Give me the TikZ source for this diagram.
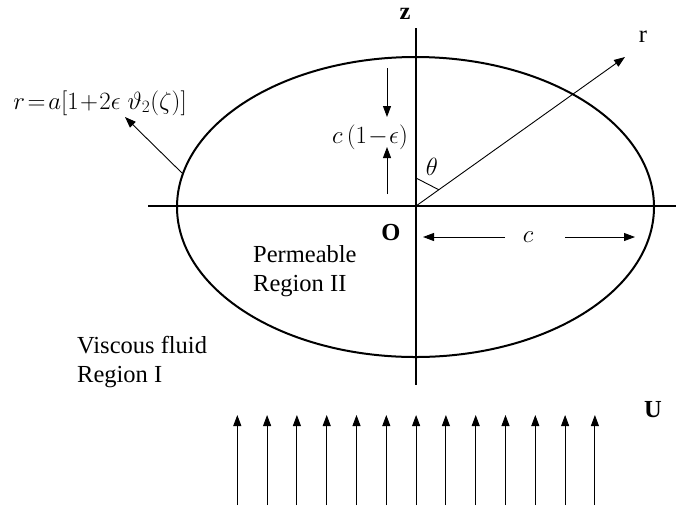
\documentclass[tikz,border=0pt]{standalone}
\usepackage{fontspec}
\setmainfont{Liberation Serif}
\usetikzlibrary{arrows.meta,calc}
\begin{document}
\begin{tikzpicture}[x=1pt,y=-1pt,
  lbl/.style={inner sep=0pt,font=\fontsize{24.5}{28.5}\selectfont},
  mlbl/.style={inner sep=0pt,font=\fontsize{25.5}{29}\selectfont},
  blbl/.style={inner sep=0pt,font=\fontsize{24.5}{28}\selectfont\bfseries},
  axis/.style={line width=1.5pt},
  thinarr/.style={line width=0.9pt,-{Triangle[length=11pt,width=8pt]}},
  body/.style={line width=2pt}]
\useasboundingbox (0,0) rectangle (676,507);
% coordinates
\coordinate (O) at (416,206);
\coordinate (axL) at (148,206);
\coordinate (axR) at (676,206);
\coordinate (axT) at (416,28);
\coordinate (axB) at (416,385);
% body
\draw[body] (415.5,207) ellipse [x radius=238.5, y radius=150];
% axes
\draw[axis] (axL) -- (axR);
\draw[axis] (axT) -- (axB);
% radial ray
\coordinate (rtip) at (625,57);
\draw[thinarr] (O) -- (rtip);
\coordinate (ang1) at (416,178);
\coordinate (ang2) at ($(O)!28pt!(rtip)$);
\draw[line width=0.9pt] (ang1) -- (ang2);
% labels
\node[blbl] (zl) at (405,14) {z};
\node[lbl] (rl) at (643,37) {r};
\node[blbl] (Ol) at (391,232) {O};
\node[mlbl] (thl) at (432,167) {$\theta$};
\node[mlbl] (cl) at (528,237) {$c$};
\node[mlbl] (ce) at (370,137) {$c\left(1\!-\!\epsilon\right)$};
\node[mlbl] (form) at (100,103) {$r\!=\!a\bigl[1\!+\!2\epsilon\;\vartheta_2(\zeta)\bigr]$};
\node[lbl,anchor=west,align=left] (perm) at (253,271) {Permeable\\Region II};
\node[lbl,anchor=west,align=left] (visc) at (77,362) {Viscous fluid\\Region I};
\node[blbl] (U) at (653,410) {U};
% dimension arrows
\coordinate (d1a) at (387,68);
\coordinate (d1b) at (387,117);
\coordinate (d2a) at (387,194);
\coordinate (d2b) at (387,147);
\draw[thinarr] (d1a) -- (d1b);
\draw[thinarr] (d2a) -- (d2b);
\coordinate (c1a) at (505,237);
\coordinate (c1b) at (423,237);
\coordinate (c2a) at (565,237);
\coordinate (c2b) at (635,237);
\draw[thinarr] (c1a) -- (c1b);
\draw[thinarr] (c2a) -- (c2b);
% surface pointer
\coordinate (sp) at (182,173);
\coordinate (st) at (125,117);
\draw[thinarr] (sp) -- (st);
% uniform stream
\foreach \i in {0,...,12}{
  \coordinate (ub\i) at ({237.3+29.8*\i},505);
  \coordinate (ut\i) at ({237.3+29.8*\i},415);
  \draw[thinarr] (ub\i) -- (ut\i);
}
\end{tikzpicture}
\end{document}
